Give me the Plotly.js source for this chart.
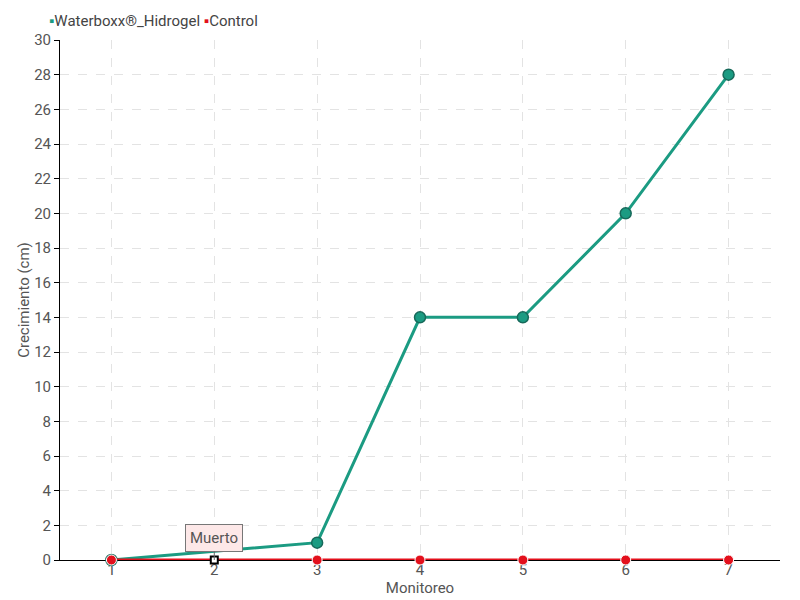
<!DOCTYPE html>
<html><head><meta charset="utf-8">
<script src="https://cdn.plot.ly/plotly-3.0.1.min.js"></script>
<style>body{margin:0}#c{width:800px;height:600px}</style>
</head><body><div id="c"></div>
<script>
const monitoreo = [1, 2, 3, 4, 5, 6, 7];
const waterboxx = [0, 0.5, 1, 14, 14, 20, 28];
const control = [0, 0, 0, 0, 0, 0, 0];
const yTicks = [0,2,4,6,8,10,12,14,16,18,20,22,24,26,28,30];
const seriesNames = ['Waterboxx®_Hidrogel', 'Control'];
const muertoIndex = 1;

const FONT = "Roboto, sans-serif";
const GREEN = '#1b9b82', RED = '#e3101c';
const F = (size, color) => ({family: FONT, size: size, color: color});
const traces = [
  {x: monitoreo, y: waterboxx, name: seriesNames[0], mode: 'lines+markers', cliponaxis: false,
   line: {color: GREEN, width: 3},
   marker: {color: GREEN, opacity: 1, size: monitoreo.map((v,i)=> i===muertoIndex ? 0 : 11), line: {color: '#17695a', width: 1.5}}},
  {x: monitoreo, y: control, name: seriesNames[1], mode: 'lines+markers', cliponaxis: false,
   line: {color: RED, width: 3},
   marker: {color: RED, opacity: 1, size: monitoreo.map((v,i)=> i===muertoIndex ? 0 : 10)}},
  {x: [monitoreo[muertoIndex]], y: [control[muertoIndex]], mode: 'markers', cliponaxis: false, hoverinfo: 'skip',
   marker: {symbol: 'square', color: '#fff', size: 7, line: {color: '#000', width: 2}}}
];
const layout = {
  width: 800, height: 600,
  margin: {l: 60, r: 20, t: 40, b: 40},
  paper_bgcolor: '#fff', plot_bgcolor: '#fff',
  font: F(15, '#555'),
  showlegend: false,
  xaxis: {range: [0.5, 7.5], tickvals: monitoreo, ticktext: monitoreo.map(String), layer: 'below traces',
          showline: true, linecolor: '#000', linewidth: 1, ticks: '', ticklabelstandoff: -4,
          showgrid: true, gridcolor: '#e3e3e3', griddash: 'dash', gridwidth: 1, zeroline: false,
          title: {text: 'Monitoreo', standoff: 0, font: F(15, '#555')}},
  yaxis: {range: [0, 30], tickvals: yTicks, showline: true, linecolor: '#000', linewidth: 1, layer: 'below traces',
          ticks: 'outside', ticklen: 5, tickcolor: '#000',
          showgrid: true, gridcolor: '#e3e3e3', griddash: 'dash', gridwidth: 1, zeroline: false,
          title: {text: 'Crecimiento (cm)', standoff: 0, font: F(15, '#555')}},
  annotations: [
    {x: monitoreo[muertoIndex], y: control[muertoIndex], xref: 'x', yref: 'y',
     text: 'Muerto', showarrow: true, arrowhead: 0, arrowwidth: 1, arrowcolor: '#666', ax: 0, ay: -22,
     bgcolor: '#fde8e8', bordercolor: '#777', borderwidth: 1, borderpad: 4, font: F(15, '#555')},
    {xref: 'paper', yref: 'paper', x: -0.018, y: 1.036, xanchor: 'left', yanchor: 'middle', showarrow: false,
     text: `<span style="color:${GREEN}">▪</span>${seriesNames[0]} <span style="color:${RED}">▪</span>${seriesNames[1]}`,
     font: F(15, '#444')}
  ]
};
Plotly.newPlot('c', traces, layout, {displayModeBar: false});
</script></body></html>
